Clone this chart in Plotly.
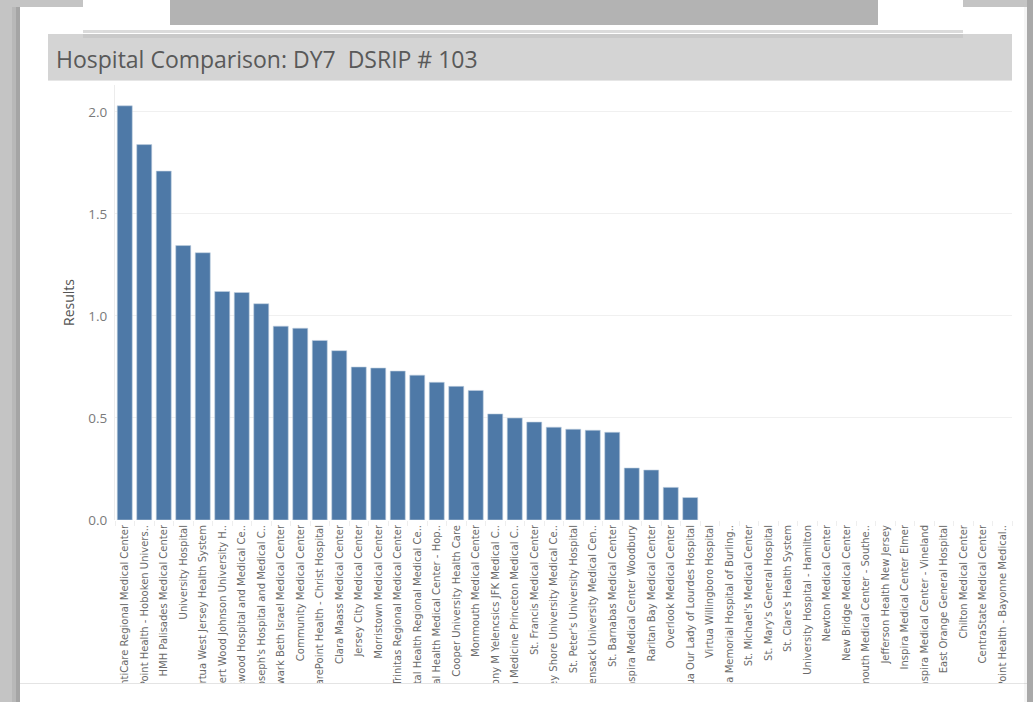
import plotly.graph_objects as go

# ---------------- data ----------------
hospitals = [
    "AtlantiCare Regional Medical Center",
    "CarePoint Health - Hoboken Univers..",
    "HMH Palisades Medical Center",
    "University Hospital",
    "Virtua West Jersey Health System",
    "Robert Wood Johnson University H..",
    "Englewood Hospital and Medical Ce..",
    "St. Joseph's Hospital and Medical C..",
    "Newark Beth Israel Medical Center",
    "Community Medical Center",
    "CarePoint Health - Christ Hospital",
    "Clara Maass Medical Center",
    "Jersey City Medical Center",
    "Morristown Medical Center",
    "Trinitas Regional Medical Center",
    "Capital Health Regional Medical Ce..",
    "Capital Health Medical Center - Hop..",
    "Cooper University Health Care",
    "Monmouth Medical Center",
    "Anthony M Yelencsics JFK Medical C..",
    "Penn Medicine Princeton Medical C..",
    "St. Francis Medical Center",
    "Jersey Shore University Medical Ce..",
    "St. Peter's University Hospital",
    "Hackensack University Medical Cen..",
    "St. Barnabas Medical Center",
    "Inspira Medical Center Woodbury",
    "Raritan Bay Medical Center",
    "Overlook Medical Center",
    "Virtua Our Lady of Lourdes Hospital",
    "Virtua Willingboro Hospital",
    "Virtua Memorial Hospital of Burling..",
    "St. Michael's Medical Center",
    "St. Mary's General Hospital",
    "St. Clare's Health System",
    "University Hospital - Hamilton",
    "Newton Medical Center",
    "New Bridge Medical Center",
    "Monmouth Medical Center - Southe..",
    "Jefferson Health New Jersey",
    "Inspira Medical Center Elmer",
    "Inspira Medical Center - Vineland",
    "East Orange General Hospital",
    "Chilton Medical Center",
    "CentraState Medical Center",
    "CarePoint Health - Bayonne Medical..",
]

results = [
    2.03, 1.84, 1.71, 1.345, 1.31, 1.12, 1.115, 1.06, 0.95, 0.94,
    0.88, 0.83, 0.75, 0.745, 0.73, 0.71, 0.675, 0.655, 0.635, 0.52,
    0.50, 0.48, 0.455, 0.445, 0.44, 0.43, 0.255, 0.245, 0.16, 0.11,
    None, None, None, None, None, None, None, None, None, None,
    None, None, None, None, None, None,
]

y_ticks = [0.0, 0.5, 1.0, 1.5, 2.0]
title_text = "Hospital Comparison: DY7\u00a0 DSRIP # 103"
y_title = "Results"

# ---------------- layout geometry ----------------
FW, FH = 1033, 702
L, R, T, B = 115, 21, 85, 182
PW, PH = FW - L - R, FH - T - B


def px(x):
    return (x - L) / PW


def py(y):
    return 1 - (y - T) / PH


def rect(x0, y0, x1, y1, color, layer="below"):
    return dict(type="rect", xref="paper", yref="paper",
                x0=px(x0), x1=px(x1), y0=py(y1), y1=py(y0),
                fillcolor=color, line=dict(width=0), layer=layer)


shapes = [
    # main white panel
    rect(20, 7, 1027, 702, "white"),
    # left shadow
    rect(12, 7, 20, 702, "rgba(0,0,0,0.06)"),
    rect(16, 7, 20, 702, "rgba(0,0,0,0.10)"),
    # top white strip and its gray bar
    rect(83, 0, 963, 30, "white"),
    rect(170, 0, 878, 25, "#b3b3b3"),
    # shadow below the top strip
    rect(83, 30, 963, 33, "rgba(0,0,0,0.14)"),
    # title bar
    rect(48, 34, 1012, 80, "#d4d4d4"),
    rect(83, 34, 963, 38, "rgba(0,0,0,0.05)"),
    rect(48, 80, 1012, 81, "#e6e6e6"),
    # bottom edge of the label area (labels are clipped here, as in the dashboard)
    rect(20, 683, 1027, 702, "white", layer="above"),
    rect(20, 683, 1027, 684, "#e4e4e4", layer="above"),
    # right shadow edge
    rect(1027, 0, 1033, 702, "#a9a9a9", layer="above"),
    rect(1024, 7, 1027, 702, "rgba(0,0,0,0.04)", layer="above"),
]

fig = go.Figure()
fig.add_trace(go.Bar(
    x=hospitals,
    y=results,
    marker=dict(color="#4e79a7", line=dict(color="#c3d1e0", width=0.6)),
    hovertemplate="%{x}<br>Results: %{y}<extra></extra>",
))

fig.update_layout(
    width=FW, height=FH,
    margin=dict(l=L, r=R, t=T, b=B, autoexpand=False),
    paper_bgcolor="#c4c4c4",
    plot_bgcolor="white",
    showlegend=False,
    bargap=0.23,
    shapes=shapes,
    font=dict(family="Open Sans, sans-serif", color="#555555"),
    annotations=[
        dict(text=title_text, xref="paper", yref="paper",
             x=px(54), y=py(59), xanchor="left", yanchor="middle",
             showarrow=False,
             font=dict(family="Open Sans, sans-serif", size=23, color="#595959")),
    ],
)

fig.update_xaxes(
    type="category",
    categoryorder="array", categoryarray=hospitals,
    tickangle=-90,
    tickfont=dict(family="DejaVu Sans, sans-serif", size=10, color="#6a6a6a"),
    ticks="outside", tickson="boundaries", ticklen=5, tickcolor="#eeeeee",
    ticklabelstandoff=2,
    showgrid=False, showline=False, zeroline=False,
    automargin=False,
)

fig.update_yaxes(
    range=[0, 2.132],
    tickvals=y_ticks,
    tickformat=".1f",
    tickfont=dict(family="Open Sans, sans-serif", size=13.5, color="#7a7a7a"),
    ticklabelstandoff=4,
    showgrid=True, gridcolor="#f0f0f0", gridwidth=1,
    zeroline=False,
    showline=True, linecolor="#ececec", linewidth=1,
    title=dict(text=y_title, standoff=10,
               font=dict(family="Open Sans, sans-serif", size=14, color="#555555")),
    automargin=False,
)

fig.write_html("out.html")
